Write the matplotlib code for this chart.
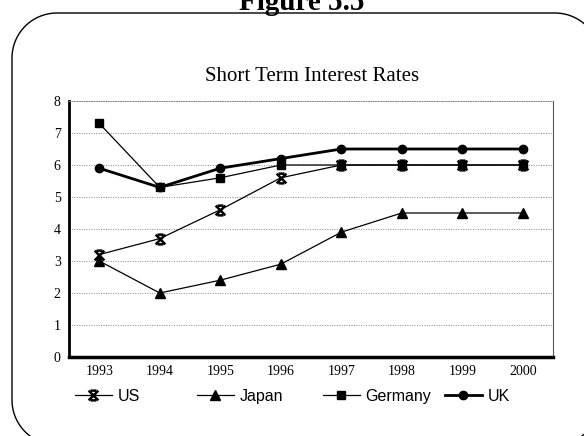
import matplotlib
matplotlib.use("Agg")
import matplotlib.pyplot as plt
from matplotlib.patches import PathPatch
from matplotlib.path import Path
import numpy as np

years = ["1993", "1994", "1995", "1996", "1997", "1998", "1999", "2000"]
us = [3.2, 3.7, 4.6, 5.6, 6.0, 6.0, 6.0, 6.0]
japan = [3.0, 2.0, 2.4, 2.9, 3.9, 4.5, 4.5, 4.5]
germany = [7.3, 5.3, 5.6, 6.0, 6.0, 6.0, 6.0, 6.0]
uk = [5.9, 5.3, 5.9, 6.2, 6.5, 6.5, 6.5, 6.5]
yticks = [0, 1, 2, 3, 4, 5, 6, 7, 8]

W, H = 584, 436
fig = plt.figure(figsize=(W / 100, H / 100), dpi=100)


def px(xp, yp):
    return (xp / W, 1 - yp / H)


# rounded frame drawn in pixel space (y downwards)
x0, x1, y0, y1, r = 12, 600, 13, 445, 45
pts = []
for cx, cy, a0, a1 in [(x0 + r, y0 + r, 180, 270), (x1 - r, y0 + r, 270, 360),
                       (x1 - r, y1 - r, 0, 90), (x0 + r, y1 - r, 90, 180)]:
    for a in np.linspace(np.radians(a0), np.radians(a1), 30):
        pts.append(px(cx + r * np.cos(a), cy + r * np.sin(a)))
pts.append(pts[0])
frame = PathPatch(Path(pts), transform=fig.transFigure, fill=False,
                  edgecolor="black", linewidth=1.0)
fig.patches.append(frame)

fig.text(302 / W, 1 - 10 / H, "Figure 5.5", ha="center", va="baseline",
         family="Liberation Serif", fontweight="bold", fontsize=21)
fig.text(312 / W, 1 - 76 / H, "Short Term Interest Rates", ha="center", va="center",
         family="Liberation Serif", fontsize=15)

ax = fig.add_axes([69 / W, 1 - 357 / H, (553 - 69) / W, (357 - 101) / H])
x = list(range(len(years)))

# custom star-x marker (X with caps)
verts = [(-1, 1), (1, -1), (-1, -1), (1, 1), (-0.6, 1), (0.6, 1), (-0.6, -1), (0.6, -1)]
codes = [Path.MOVETO, Path.LINETO, Path.MOVETO, Path.LINETO,
         Path.MOVETO, Path.LINETO, Path.MOVETO, Path.LINETO]
starx = Path(verts, codes)

l1, = ax.plot(x, us, color="black", lw=0.9, marker=starx, ms=7, mew=1.8,
              mfc="none", mec="black", label="US")
l2, = ax.plot(x, japan, color="black", lw=0.9, marker="^", ms=7, label="Japan")
l3, = ax.plot(x, germany, color="black", lw=0.9, marker="s", ms=6, label="Germany")
l4, = ax.plot(x, uk, color="black", lw=2.0, marker="o", ms=6, label="UK")

ax.set_xlim(-0.5, len(years) - 0.5)
ax.set_ylim(0, 8)
ax.set_yticks(yticks)
ax.set_yticklabels([str(v) for v in yticks])
ax.set_xticks(x)
ax.set_xticklabels(years)
for lab in ax.get_xticklabels() + ax.get_yticklabels():
    lab.set_family("Liberation Serif")
    lab.set_fontsize(10)
ax.tick_params(axis="both", length=0, pad=6)
ax.grid(axis="y", linestyle=(0, (1, 1.5)), color="#888888", linewidth=0.7)
ax.spines["left"].set_linewidth(2.0)
ax.spines["bottom"].set_linewidth(2.5)
ax.spines["right"].set_linewidth(0.8)
ax.spines["right"].set_color("#555555")
ax.spines["top"].set_linestyle((0, (1, 1.5)))
ax.spines["top"].set_color("#888888")
ax.spines["top"].set_linewidth(0.7)

# legend entries placed individually
for handle, xs in zip([l1, l2, l3, l4], [75, 197, 323, 445]):
    fig.legend(handles=[handle], loc="center left",
               bbox_to_anchor=px(xs, 396), frameon=False,
               prop={"family": "Liberation Sans", "size": 11.5},
               handlelength=2.3, handletextpad=0.35,
               borderpad=0, borderaxespad=0)

fig.savefig("out.png", dpi=100)
